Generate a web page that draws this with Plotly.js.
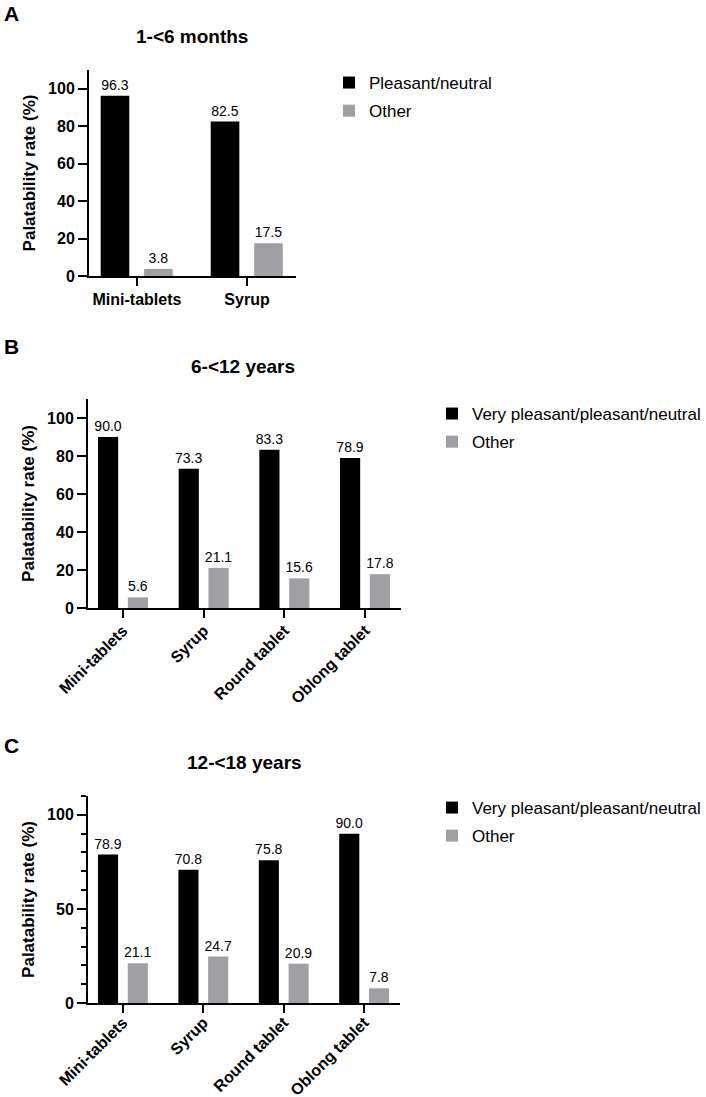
<!DOCTYPE html>
<html>
<head>
<meta charset="utf-8">
<script src="https://cdn.plot.ly/plotly-3.0.1.min.js"></script>
<style>
  html, body { margin: 0; padding: 0; background: #fff; }
  #chart { width: 706px; height: 1097px; }
</style>
</head>
<body>
<div id="chart"></div>
<script>
var catsA = ['Mini-tablets', 'Syrup'];
var pleasantA = [96.3, 82.5];
var otherA = [3.8, 17.5];

var catsBC = ['Mini-tablets', 'Syrup', 'Round tablet', 'Oblong tablet'];
var pleasantB = [90.0, 73.3, 83.3, 78.9];
var otherB = [5.6, 21.1, 15.6, 17.8];
var pleasantC = [78.9, 70.8, 75.8, 90.0];
var otherC = [21.1, 24.7, 20.9, 7.8];

var black = '#000000';
var grey = '#a0a0a4';
var font = 'Liberation Sans, Arial, sans-serif';

function barTrace(cats, vals, name, color, ax, leg, offset, width) {
    return {
        type: 'bar',
        x: cats,
        y: vals,
        name: name,
        xaxis: 'x' + ax,
        yaxis: 'y' + ax,
        legend: leg,
        legendgroup: leg + name,
        offset: offset,
        width: width,
        marker: { color: color, line: { width: 0 } },
        text: vals.map(function (v) { return v.toFixed(1); }),
        textposition: 'outside',
        constraintext: 'none',
        cliponaxis: false,
        textfont: { family: font, size: 14, color: '#000' },
        hoverinfo: 'x+y'
    };
}

var data = [
    barTrace(catsA, pleasantA, 'Pleasant/neutral', black, '', 'legend', -0.33, 0.26),
    barTrace(catsA, otherA, 'Other', grey, '', 'legend', 0.065, 0.26),
    barTrace(catsBC, pleasantB, 'Very pleasant/pleasant/neutral', black, '2', 'legend2', -0.31, 0.25),
    barTrace(catsBC, otherB, 'Other', grey, '2', 'legend2', 0.06, 0.25),
    barTrace(catsBC, pleasantC, 'Very pleasant/pleasant/neutral', black, '3', 'legend3', -0.31, 0.25),
    barTrace(catsBC, otherC, 'Other', grey, '3', 'legend3', 0.06, 0.25)
];

function xAx(domain, range, angle, anchor, standoff) {
    return {
        domain: domain,
        anchor: anchor,
        range: range,
        type: 'category',
        showline: true, linewidth: 2, linecolor: '#000',
        ticks: 'outside', ticklen: 8, tickwidth: 2, tickcolor: '#000',
        showgrid: false, zeroline: false,
        tickangle: angle,
        ticklabelstandoff: standoff,
        tickfont: { family: font, size: 16, color: '#000', weight: 'bold' },
        fixedrange: true
    };
}

function yAx(domain, dtick, minor, anchor) {
    var ax = {
        domain: domain,
        anchor: anchor,
        range: [0, 110],
        dtick: dtick,
        tick0: 0,
        showline: true, linewidth: 2, linecolor: '#000',
        ticks: 'outside', ticklen: 9, tickwidth: 2, tickcolor: '#000',
        showgrid: false, zeroline: false,
        tickfont: { family: font, size: 16, color: '#000', weight: 'bold' },
        title: {
            text: 'Palatability rate (%)',
            font: { family: font, size: 17, color: '#000', weight: 'bold' },
            standoff: 8
        },
        fixedrange: true
    };
    if (minor) {
        ax.minor = { dtick: 10, tick0: 0, ticks: 'outside', ticklen: 5, tickwidth: 2, tickcolor: '#000', showgrid: false };
    }
    return ax;
}

function legend(x, y) {
    return {
        x: x, y: y, xanchor: 'left', yanchor: 'top',
        bgcolor: 'rgba(0,0,0,0)',
        tracegroupgap: 3,
        font: { family: font, size: 17, color: '#000' }
    };
}

function label(text, x, y, size) {
    return {
        text: text, xref: 'paper', yref: 'paper',
        x: x / 706, y: 1 - y / 1097,
        xanchor: 'center', yanchor: 'middle',
        showarrow: false,
        font: { family: font, size: size, color: '#000', weight: 'bold' }
    };
}

var layout = {
    width: 706,
    height: 1097,
    margin: { l: 0, r: 0, t: 0, b: 0 },
    paper_bgcolor: '#fff',
    plot_bgcolor: '#fff',
    barmode: 'overlay',
    showlegend: true,
    xaxis: xAx([89 / 706, 296 / 706], [-0.436, 1.445], 0, 'y', 0),
    yaxis: yAx([1 - 276 / 1097, 1 - 70 / 1097], 20, false, 'x'),
    xaxis2: xAx([88 / 706, 401 / 706], [-0.434, 3.446], -45, 'y2', -3),
    yaxis2: yAx([1 - 608 / 1097, 1 - 399 / 1097], 20, false, 'x2'),
    xaxis3: xAx([88 / 706, 400 / 706], [-0.434, 3.446], -45, 'y3', -6),
    yaxis3: yAx([1 - 1003 / 1097, 1 - 796 / 1097], 50, true, 'x3'),
    legend: legend(329 / 706, 1 - 65 / 1097),
    legend2: legend(432 / 706, 1 - 396 / 1097),
    legend3: legend(432 / 706, 1 - 790 / 1097),
    annotations: [
        label('A', 11, 14, 21),
        label('1-<6 months', 192, 37, 19),
        label('B', 11, 346, 21),
        label('6-<12 years', 243, 366, 19),
        label('C', 11, 745, 21),
        label('12-<18 years', 244, 762, 19)
    ]
};

Plotly.newPlot('chart', data, layout, { displayModeBar: false, staticPlot: true });
</script>
</body>
</html>
